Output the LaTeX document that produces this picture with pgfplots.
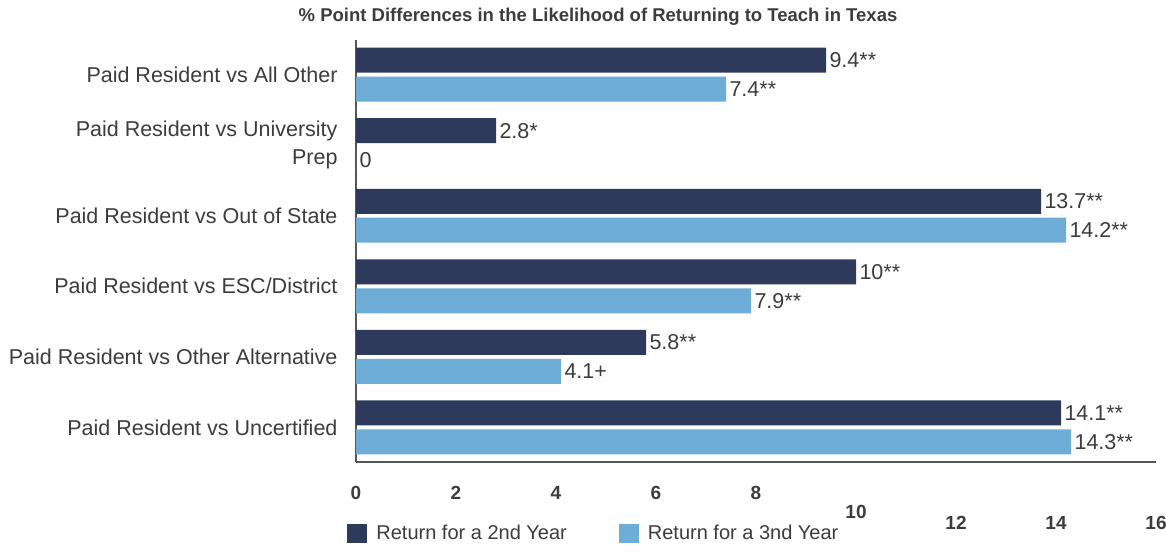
\documentclass[border=0pt]{standalone}
\usepackage{fontspec}
\setmainfont{Liberation Sans}
\usepackage{pgfplots}
\pgfplotsset{compat=1.18}
\definecolor{navy}{HTML}{2E3A5B}
\definecolor{sky}{HTML}{6EADD8}
\definecolor{txt}{HTML}{3C3C3C}
\definecolor{axisgray}{HTML}{555555}

\begin{document}
\begin{tikzpicture}
\useasboundingbox (0pt,0pt) rectangle (1166pt,-556pt);
\node[font=\bfseries\fontsize{18.5}{22}\selectfont, text=txt] at (598pt,-17pt)
  {\% Point Differences in the Likelihood of Returning to Teach in Texas};
\begin{axis}[
  at={(356pt,-40pt)}, anchor=north west,
  scale only axis, width=800pt, height=422pt,
  xbar, bar width=25pt, bar shift=0pt,
  xmin=0, xmax=16, ymin=-0.49, ymax=5.49, y dir=reverse,
  axis x line=bottom, axis y line=left,
  axis line style={-, draw=axisgray, line width=2pt},
  major tick length=0pt,
  xtick={0,2,4,6,8,10,12,14,16},
  xticklabels={0,2,4,6,8,
    \raisebox{-19pt}[\height][\depth]{10},
    \raisebox{-30pt}[\height][\depth]{12},
    \raisebox{-30pt}[\height][\depth]{14},
    \raisebox{-30pt}[\height][\depth]{16}},
  xticklabel style={font=\bfseries\fontsize{19}{22}\selectfont, text=txt, yshift=-21pt},
  ytick={0,1,2,3,4,5},
  yticklabels={Paid Resident vs All Other,
    {Paid Resident vs University\\Prep},
    Paid Resident vs Out of State,
    Paid Resident vs ESC/District,
    Paid Resident vs Other Alternative,
    Paid Resident vs Uncertified},
  yticklabel style={font=\fontsize{21.5}{28}\selectfont, text=txt, align=right, xshift=-15pt},
  point meta=explicit symbolic,
  nodes near coords,
  every node near coord/.append style={anchor=west, font=\fontsize{21.5}{24}\selectfont, text=txt},
  legend columns=2,
  legend style={at={(-0.011,-0.145)}, anchor=north west, draw=none, inner sep=0pt,
    font=\fontsize{20}{24}\selectfont, text=txt,
    /tikz/every odd column/.append style={column sep=7pt},
    /tikz/every even column/.append style={column sep=50pt}},
  legend image code/.code={\fill[#1] (0pt,-9.5pt) rectangle (20pt,9.5pt);},
]
\addplot[fill=navy, draw=none] coordinates {
  (9.4,-0.205) [9.4**]
  (2.8,0.795) [2.8*]
  (13.7,1.795) [13.7**]
  (10,2.795) [10**]
  (5.8,3.795) [5.8**]
  (14.1,4.795) [14.1**]
};
\addlegendentry{Return for a 2nd Year}
\addplot[fill=sky, draw=none] coordinates {
  (7.4,0.205) [7.4**]
  (0,1.205) [0]
  (14.2,2.205) [14.2**]
  (7.9,3.205) [7.9**]
  (4.1,4.205) [4.1+]
  (14.3,5.205) [14.3**]
};
\addlegendentry{Return for a 3nd Year}
\end{axis}
\end{tikzpicture}
\end{document}
